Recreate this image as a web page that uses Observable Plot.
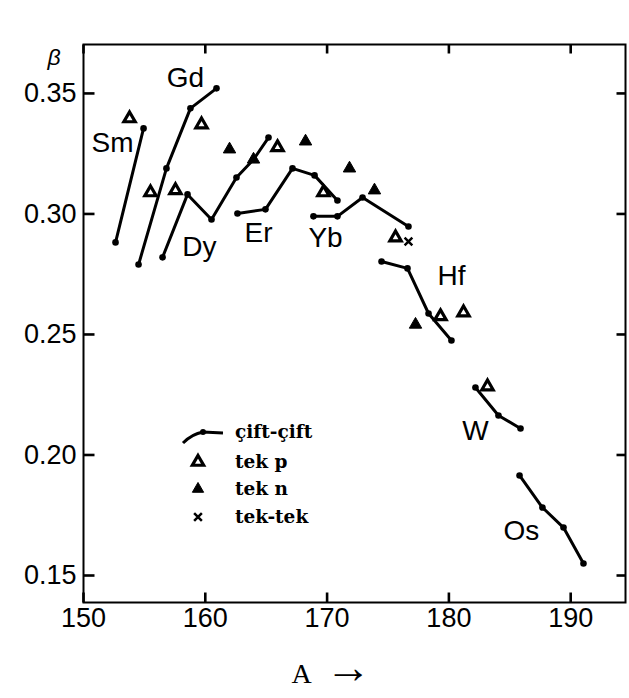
<!DOCTYPE html>
<html><head><meta charset="utf-8">
<script src="https://cdn.jsdelivr.net/npm/d3@7"></script>
<script src="https://cdn.jsdelivr.net/npm/@observablehq/plot@0.6"></script>
<style>
body{margin:0;background:#fff;}
#wrap{position:relative;width:629px;height:698px;}
.lg{position:absolute;left:180px;height:28px;line-height:28px;font-family:"DejaVu Serif",serif;font-weight:bold;font-size:18.5px;color:#000;white-space:nowrap;}
.lg svg{position:absolute;left:0;top:0;width:55px;height:28px;overflow:visible;}
.lg span{position:absolute;left:55px;top:0;}
</style></head><body><div id="wrap"></div>
<script>
// even-even (çift-çift) series: mass number A and deformation β
const smA=[152.63,154.93], smB=[0.2882,0.3355];
const gdA=[154.52,156.81,158.78,160.92], gdB=[0.2790,0.3189,0.3438,0.3521];
const dyA=[156.49,158.54,160.51,162.56,163.96,165.19], dyB=[0.2820,0.3081,0.2977,0.3151,0.3226,0.3317];
const erA=[162.64,164.94,167.16,168.97,170.85], erB=[0.3002,0.3019,0.3189,0.3160,0.3056];
const ybA=[168.88,170.85,172.91,176.68], ybB=[0.2990,0.2990,0.3068,0.2948];
const hfA=[174.47,176.60,178.33,180.21], hfB=[0.2803,0.2774,0.2587,0.2475];
const wA=[182.18,184.07,185.88], wB=[0.2280,0.2164,0.2110];
const osA=[185.80,187.68,189.41,191.05], osB=[0.1915,0.1782,0.1699,0.1550];
// odd (tek p, tek n) and odd-odd (tek-tek)
const tekPA=[153.78,155.50,157.55,159.69,165.93,169.70,175.62,179.31,181.20,183.17];
const tekPB=[0.3396,0.3089,0.3098,0.3371,0.3276,0.3089,0.2902,0.2575,0.2591,0.2284];
const tekNA=[161.99,163.96,168.23,171.84,173.89,177.26];
const tekNB=[0.3268,0.3226,0.3301,0.3189,0.3098,0.2541];
const tekTekA=[176.68], tekTekB=[0.2886];
// element labels
const labelNames=["Sm","Gd","Dy","Er","Yb","Hf","W","Os"];
const labelA=[152.38,158.37,159.52,164.37,169.87,180.21,182.18,185.96];
const labelB=[0.3293,0.3562,0.2861,0.2919,0.2902,0.2741,0.2098,0.1683];
const xTicks=[150,160,170,180,190];
const yTicks=[0.15,0.20,0.25,0.30,0.35];

const series=[["Sm",smA,smB],["Gd",gdA,gdB],["Dy",dyA,dyB],["Er",erA,erB],["Yb",ybA,ybB],["Hf",hfA,hfB],["W",wA,wB],["Os",osA,osB]];
const evenRows=series.flatMap(([el,A,B])=>A.map((a,i)=>({el,A:a,b:B[i]})));
const rows=(A,B)=>A.map((a,i)=>({A:a,b:B[i]}));
const tekP=rows(tekPA,tekPB), tekN=rows(tekNA,tekNB), tekTek=rows(tekTekA,tekTekB);
const labels=labelNames.map((t,i)=>({t,A:labelA[i],b:labelB[i]}));

const W=629,H=698,mL=83,mR=4,mT=44,mB=96;
const xDom=[150,194.5], yDom=[0.1388,0.3703];
// inward tick lengths converted to data units
const kx=(xDom[1]-xDom[0])/(W-mL-mR), ky=(yDom[1]-yDom[0])/(H-mT-mB);
const tickMarks=[
  ...xTicks.map(v=>({x1:v,x2:v,y1:yDom[0],y2:yDom[0]+10*ky})),
  ...xTicks.map(v=>({x1:v,x2:v,y1:yDom[1],y2:yDom[1]-9*ky})),
  ...yTicks.map(v=>({x1:xDom[0],x2:xDom[0]+11*kx,y1:v,y2:v})),
  ...yTicks.map(v=>({x1:xDom[1],x2:xDom[1]-9*kx,y1:v,y2:v}))
];

const plot=Plot.plot({
  width:W,height:H,
  marginLeft:mL,marginRight:mR,marginTop:mT,marginBottom:mB,
  x:{domain:xDom},
  y:{domain:yDom},
  style:{fontFamily:'"Liberation Sans", Arial, sans-serif',background:"white",color:"black",overflow:"visible"},
  marks:[
    Plot.frame({stroke:"black",strokeWidth:2}),
    // tick labels
    Plot.axisX({anchor:"bottom",ticks:xTicks,tickSize:0,tickPadding:5,fontSize:27,label:null}),
    Plot.axisY({anchor:"left",ticks:yTicks,tickSize:0,tickPadding:7,tickFormat:d3.format(".2f"),fontSize:27,label:null}),
    // inward ticks on all four sides
    Plot.link(tickMarks,{x1:"x1",x2:"x2",y1:"y1",y2:"y2",stroke:"black",strokeWidth:2.6}),
    Plot.line(evenRows,{x:"A",y:"b",z:"el",stroke:"black",strokeWidth:3}),
    Plot.dot(evenRows,{x:"A",y:"b",r:3.3,fill:"black"}),
    Plot.dot(tekP,{x:"A",y:"b",symbol:"triangle",r:4.2,fill:"white",stroke:"black",strokeWidth:3.2}),
    Plot.dot(tekN,{x:"A",y:"b",symbol:"triangle",r:4.6,fill:"black",stroke:"black",strokeWidth:1}),
    Plot.dot(tekTek,{x:"A",y:"b",symbol:"times",r:3.6,stroke:"black",strokeWidth:2.5}),
    Plot.text(labels,{x:"A",y:"b",text:"t",fontSize:28,fill:"black"}),
    Plot.text(["β"],{text:d=>d,frameAnchor:"top-left",dx:-36,dy:4,fontStyle:"italic",fontSize:23,fill:"black"}),
    Plot.text(["A"],{text:d=>d,frameAnchor:"bottom",dx:-53,dy:80,fontFamily:'"Liberation Serif", serif',fontSize:28,fill:"black"}),
    Plot.text(["→"],{text:d=>d,frameAnchor:"bottom",dx:-6,dy:80,fontFamily:'"Liberation Serif", serif',fontSize:46,fill:"black"})
  ]
});
const wrap=document.getElementById("wrap");
wrap.appendChild(plot);

// legend
const legendItems=[["line","çift-çift",432],["tekp","tek p",462],["tekn","tek n",489],["x","tek-tek",517]];
legendItems.forEach(([kind,label,cy])=>{
  const div=document.createElement("div");
  div.className="lg";div.style.top=(cy-14)+"px";
  const svg=d3.create("svg");
  if(kind==="line"){
    svg.append("path").attr("d","M3,25 Q12,16 23,14 L43,15").attr("fill","none").attr("stroke","black").attr("stroke-width",3);
    svg.append("circle").attr("cx",23).attr("cy",14).attr("r",3).attr("fill","black");
  } else if(kind==="tekp"||kind==="tekn"){
    svg.append("path").attr("d",d3.symbol(d3.symbolTriangle,Math.PI*4.2*4.2)()).attr("transform","translate(18,14)")
      .attr("fill",kind==="tekp"?"white":"black").attr("stroke","black").attr("stroke-width",kind==="tekp"?3.2:1);
  } else {
    svg.append("path").attr("d",d3.symbol(d3.symbolTimes,Math.PI*3.6*3.6)()).attr("transform","translate(18,14)")
      .attr("fill","none").attr("stroke","black").attr("stroke-width",2.5);
  }
  div.appendChild(svg.node());
  const sp=document.createElement("span");sp.textContent=label;div.appendChild(sp);
  wrap.appendChild(div);
});
</script></body></html>
